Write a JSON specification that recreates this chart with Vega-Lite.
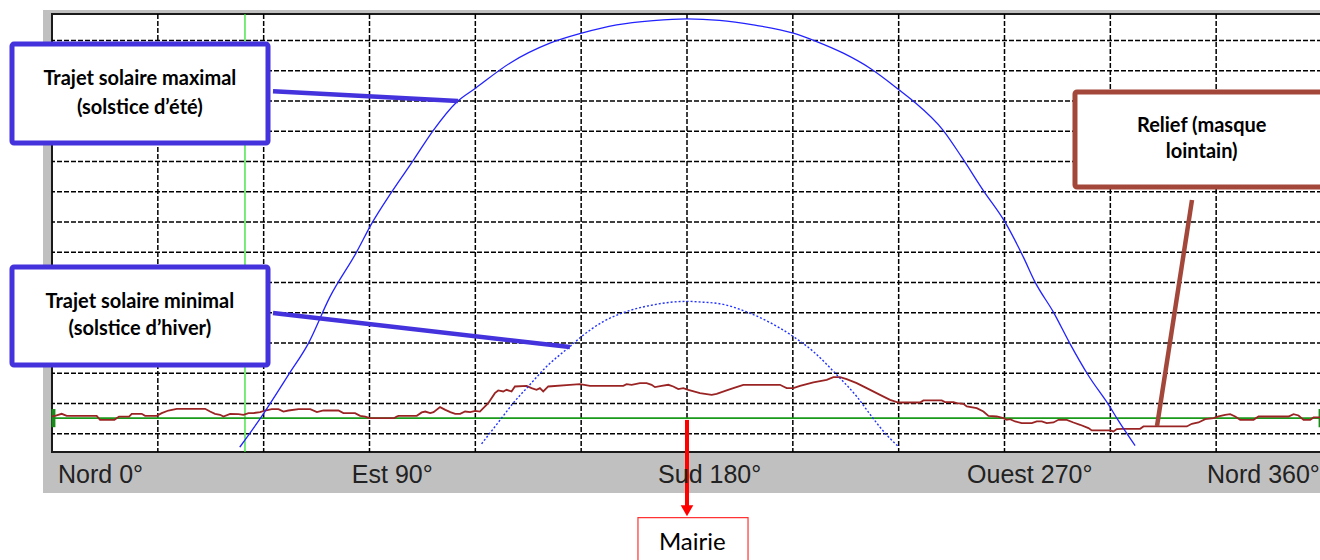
{
  "$schema": "https://vega.github.io/schema/vega-lite/v6.json",
  "width": 1270,
  "height": 438,
  "autosize": {"type": "none"},
  "padding": {"left": 52, "top": 14, "right": 0, "bottom": 108},
  "background": "white",
  "view": {"stroke": null},
  "datasets": {
    "band": [{"x1": -2.55, "x2": 366, "y1": 67.45, "y2": -12.38}],
    "plot": [{"x1": 0, "x2": 360, "y1": -5.6, "y2": 66.8}],
    "vgrid": [{"az": 30}, {"az": 60}, {"az": 90}, {"az": 120}, {"az": 150}, {"az": 180}, {"az": 210}, {"az": 240}, {"az": 270}, {"az": 300}, {"az": 330}],
    "hgrid": [{"e": -2.6}, {"e": 2.4}, {"e": 7.4}, {"e": 12.4}, {"e": 17.4}, {"e": 22.4}, {"e": 27.4}, {"e": 32.4}, {"e": 37.4}, {"e": 42.4}, {"e": 47.4}, {"e": 52.4}, {"e": 57.4}, {"e": 62.4}],
    "marker": [{"az": 54.7}],
    "horizon": [{"e": 0}],
    "endticks": [{"az": 0.4, "y1": -1.5, "y2": 1.5}, {"az": 359.6, "y1": -1.5, "y2": 1.5}],
    "relief": [
      {"az": 0, "e": 0.3}, {"az": 0.86, "e": 0.38}, {"az": 2.75, "e": 0.71}, {"az": 4.17, "e": 0.38}, {"az": 6.06, "e": 0.38}, {"az": 12.67, "e": 0.38}, {"az": 13.62, "e": -0.28}, {"az": 17.69, "e": -0.28}, {"az": 19.0, "e": 0.26}, {"az": 21.85, "e": 0.26}, {"az": 22.6, "e": 0.71}, {"az": 25.44, "e": 0.71}, {"az": 26.38, "e": 0.38}, {"az": 29.69, "e": 0.38}, {"az": 31.1, "e": 0.83}, {"az": 33.0, "e": 1.26}, {"az": 35.36, "e": 1.54}, {"az": 43.4, "e": 1.54}, {"az": 44.8, "e": 1.09}, {"az": 46.2, "e": 0.71}, {"az": 47.65, "e": 0.55}, {"az": 48.6, "e": 0.26}, {"az": 50.5, "e": 0.71}, {"az": 52.85, "e": 0.66}, {"az": 54.27, "e": 0.55}, {"az": 55.69, "e": 0.83}, {"az": 57.1, "e": 0.83}, {"az": 59.0, "e": 0.99}, {"az": 60.4, "e": 1.26}, {"az": 62.3, "e": 1.49}, {"az": 64.2, "e": 1.49}, {"az": 65.6, "e": 1.09}, {"az": 67.0, "e": 1.26}, {"az": 69.9, "e": 1.49}, {"az": 73.2, "e": 1.49}, {"az": 75.1, "e": 0.99}, {"az": 76.95, "e": 1.26}, {"az": 81.2, "e": 1.26}, {"az": 82.6, "e": 0.83}, {"az": 85.9, "e": 0.83}, {"az": 87.35, "e": 0.38}, {"az": 88.8, "e": 0.26}, {"az": 90, "e": 0.0}, {"az": 97.0, "e": 0.0}, {"az": 97.75, "e": 0.26}, {"az": 98.2, "e": 0.38}, {"az": 103.4, "e": 0.38}, {"az": 104.8, "e": 0.94}, {"az": 105.8, "e": 1.09}, {"az": 107.2, "e": 0.83}, {"az": 108.15, "e": 0.99}, {"az": 110.0, "e": 1.82}, {"az": 111.5, "e": 1.37}, {"az": 112.9, "e": 0.99}, {"az": 114.3, "e": 0.71}, {"az": 115.7, "e": 0.71}, {"az": 117.1, "e": 1.09}, {"az": 118.55, "e": 0.99}, {"az": 119.96, "e": 1.21}, {"az": 121.29, "e": 1.09}, {"az": 123.65, "e": 2.47}, {"az": 125.54, "e": 4.13}, {"az": 126.49, "e": 4.57}, {"az": 127.91, "e": 4.4}, {"az": 128.85, "e": 4.68}, {"az": 130.27, "e": 4.4}, {"az": 131.22, "e": 5.23}, {"az": 134.52, "e": 5.34}, {"az": 135.94, "e": 4.95}, {"az": 137.36, "e": 4.68}, {"az": 138.3, "e": 4.95}, {"az": 139.25, "e": 4.4}, {"az": 140.67, "e": 5.23}, {"az": 146.81, "e": 5.51}, {"az": 149.65, "e": 5.61}, {"az": 152.48, "e": 5.34}, {"az": 161.94, "e": 5.34}, {"az": 162.88, "e": 5.61}, {"az": 164.3, "e": 5.51}, {"az": 166.66, "e": 5.78}, {"az": 168.55, "e": 5.78}, {"az": 169.97, "e": 5.51}, {"az": 170.92, "e": 5.12}, {"az": 172.81, "e": 5.34}, {"az": 174.7, "e": 5.51}, {"az": 176.11, "e": 5.23}, {"az": 177.53, "e": 4.79}, {"az": 178.95, "e": 4.95}, {"az": 180.37, "e": 4.68}, {"az": 183.68, "e": 4.13}, {"az": 186.99, "e": 3.85}, {"az": 188.4, "e": 4.02}, {"az": 191.24, "e": 4.57}, {"az": 193.13, "e": 4.95}, {"az": 195.97, "e": 5.51}, {"az": 206.37, "e": 5.51}, {"az": 207.31, "e": 5.23}, {"az": 208.26, "e": 4.95}, {"az": 210.15, "e": 4.95}, {"az": 212.04, "e": 5.34}, {"az": 215.82, "e": 5.89}, {"az": 219.6, "e": 6.33}, {"az": 221.49, "e": 6.77}, {"az": 223.38, "e": 6.77}, {"az": 225.27, "e": 6.44}, {"az": 228.11, "e": 5.78}, {"az": 230.94, "e": 4.95}, {"az": 234.72, "e": 3.85}, {"az": 237.56, "e": 3.02}, {"az": 239.92, "e": 2.58}, {"az": 246.06, "e": 2.58}, {"az": 247.01, "e": 2.92}, {"az": 252.21, "e": 2.92}, {"az": 253.15, "e": 2.64}, {"az": 255.51, "e": 2.64}, {"az": 256.46, "e": 2.47}, {"az": 258.35, "e": 2.36}, {"az": 259.3, "e": 1.92}, {"az": 262.13, "e": 1.65}, {"az": 264.02, "e": 1.09}, {"az": 265.44, "e": 0.38}, {"az": 267.8, "e": 0.27}, {"az": 269.69, "e": 0.0}, {"az": 270.64, "e": -0.28}, {"az": 271.58, "e": -0.17}, {"az": 273.0, "e": -0.55}, {"az": 274.89, "e": -0.83}, {"az": 277.73, "e": -0.83}, {"az": 279.15, "e": -0.55}, {"az": 280.56, "e": -0.55}, {"az": 281.98, "e": -0.83}, {"az": 283.87, "e": -0.72}, {"az": 285.29, "e": -0.28}, {"az": 287.65, "e": -0.28}, {"az": 289.54, "e": -0.72}, {"az": 291.43, "e": -1.1}, {"az": 293.8, "e": -1.65}, {"az": 294.74, "e": -2.04}, {"az": 299.94, "e": -2.04}, {"az": 300.89, "e": -2.2}, {"az": 301.83, "e": -1.82}, {"az": 303.25, "e": -1.77}, {"az": 308.45, "e": -1.77}, {"az": 309.39, "e": -1.38}, {"az": 321.68, "e": -1.38}, {"az": 323.1, "e": -0.94}, {"az": 324.99, "e": -0.72}, {"az": 326.88, "e": -0.17}, {"az": 329.25, "e": 0.0}, {"az": 330.66, "e": 0.27}, {"az": 332.55, "e": 0.55}, {"az": 333.97, "e": 0.66}, {"az": 335.39, "e": 0.27}, {"az": 336.81, "e": -0.28}, {"az": 340.59, "e": -0.28}, {"az": 342.01, "e": 0.27}, {"az": 350.51, "e": 0.27}, {"az": 351.93, "e": 0.66}, {"az": 353.35, "e": 0.44}, {"az": 354.77, "e": -0.28}, {"az": 356.66, "e": -0.28}, {"az": 357.6, "e": 0.11}, {"az": 360, "e": 0.11}
    ],
    "summer": [
      {"az": 53.23, "e": -4.79}, {"az": 59.1, "e": 0}, {"az": 67.21, "e": 7.32}, {"az": 72.6, "e": 12.28}, {"az": 78.75, "e": 20.0}, {"az": 86.32, "e": 27.43}, {"az": 90.57, "e": 32.11}, {"az": 96.25, "e": 37.35}, {"az": 102.37, "e": 42.57}, {"az": 108.04, "e": 47.53}, {"az": 114.68, "e": 52.22}, {"az": 120.07, "e": 54.54}, {"az": 129.79, "e": 58.67}, {"az": 141.14, "e": 61.97}, {"az": 150.12, "e": 63.63}, {"az": 160.05, "e": 65.0}, {"az": 170.43, "e": 65.71}, {"az": 180, "e": 66.0}, {"az": 189.2, "e": 65.75}, {"az": 198.78, "e": 65.0}, {"az": 210.13, "e": 63.63}, {"az": 216.76, "e": 62.24}, {"az": 224.31, "e": 60.32}, {"az": 231.88, "e": 57.84}, {"az": 240.39, "e": 54.14}, {"az": 244.16, "e": 52.39}, {"az": 252.67, "e": 47.53}, {"az": 257.88, "e": 43.13}, {"az": 264.01, "e": 37.61}, {"az": 270.16, "e": 32.39}, {"az": 275.35, "e": 26.61}, {"az": 278.67, "e": 22.48}, {"az": 283.86, "e": 17.52}, {"az": 288.59, "e": 12.28}, {"az": 293.78, "e": 7.04}, {"az": 299.93, "e": 1.82}, {"az": 301.83, "e": 0}, {"az": 307.02, "e": -4.53}
    ],
    "winter": [
      {"az": 121.77, "e": -4.25}, {"az": 127.44, "e": 0}, {"az": 130.73, "e": 2.48}, {"az": 134.98, "e": 5.22}, {"az": 140.2, "e": 8.53}, {"az": 146.81, "e": 11.83}, {"az": 150.12, "e": 13.49}, {"az": 156.25, "e": 15.96}, {"az": 162.88, "e": 17.62}, {"az": 170.43, "e": 18.72}, {"az": 176.5, "e": 19.22}, {"az": 180, "e": 19.3}, {"az": 183.7, "e": 19.2}, {"az": 190.28, "e": 18.8}, {"az": 195.95, "e": 17.78}, {"az": 203.52, "e": 15.8}, {"az": 210.13, "e": 13.49}, {"az": 215.8, "e": 11.01}, {"az": 222.44, "e": 7.16}, {"az": 228.11, "e": 3.57}, {"az": 232.36, "e": 0.26}, {"az": 236.13, "e": -2.48}, {"az": 239.9, "e": -4.69}
    ],
    "arrow": [{"az": 180, "y1": -0.3, "y2": -14.6}],
    "arrowhead": [{"az": 180, "e": -15.3}],
    "bluelines": [{"x1": 62.65, "x2": 115.09, "y1": 54.05, "y2": 52.4}, {"x1": 62.65, "x2": 146.83, "y1": 17.37, "y2": 11.75}],
    "brownline": [{"x1": 323.15, "x2": 313.23, "y1": 36.05, "y2": -1.31}],
    "blueboxes": [{"x1": -11.34, "x2": 61.23, "y1": 61.83, "y2": 45.47}, {"x1": -11.34, "x2": 61.23, "y1": 24.98, "y2": 8.78}],
    "brownbox": [{"x1": 289.98, "x2": 366, "y1": 53.9, "y2": 38.2}],
    "mairiebox": [{"x1": 166.1, "x2": 197.3, "y1": -16.46, "y2": -27}],
    "boxtext": [
      {"az": 24.9, "e": 56.05, "label": "Trajet solaire maximal"},
      {"az": 24.9, "e": 51.3, "label": "(solstice d’été)"},
      {"az": 24.9, "e": 19.24, "label": "Trajet solaire minimal"},
      {"az": 24.9, "e": 14.73, "label": "(solstice d’hiver)"},
      {"az": 325.9, "e": 48.3, "label": "Relief (masque"},
      {"az": 325.9, "e": 44.03, "label": "lointain)"}
    ],
    "mairietext": [{"az": 181.5, "e": -20.6, "label": "Mairie"}],
    "axislabels": [
      {"az": 1.7, "e": -9.4, "label": "Nord 0°"},
      {"az": 85.0, "e": -9.4, "label": "Est 90°"},
      {"az": 171.8, "e": -9.4, "label": "Sud 180°"},
      {"az": 259.4, "e": -9.4, "label": "Ouest 270°"},
      {"az": 327.4, "e": -9.4, "label": "Nord 360°"}
    ]
  },
  "layer": [
    {
      "data": {"name": "band"},
      "mark": {"type": "rect", "fill": "#c0c0c0"},
      "encoding": {
        "x": {"field": "x1", "type": "quantitative", "scale": {"domain": [0, 360], "nice": false, "zero": false}, "axis": null},
        "x2": {"field": "x2"},
        "y": {"field": "y1", "type": "quantitative", "scale": {"domain": [-5.6, 66.8], "nice": false, "zero": false}, "axis": null},
        "y2": {"field": "y2"}
      }
    },
    {
      "data": {"name": "plot"},
      "mark": {"type": "rect", "fill": "white", "stroke": "#1a1a1a", "strokeWidth": 2},
      "encoding": {
        "x": {"field": "x1", "type": "quantitative", "axis": null},
        "x2": {"field": "x2"},
        "y": {"field": "y1", "type": "quantitative", "axis": null},
        "y2": {"field": "y2"}
      }
    },
    {
      "data": {"name": "vgrid"},
      "mark": {"type": "rule", "color": "#000", "strokeWidth": 1.5, "strokeDash": [5, 2]},
      "encoding": {"x": {"field": "az", "type": "quantitative", "axis": null}}
    },
    {
      "data": {"name": "hgrid"},
      "mark": {"type": "rule", "color": "#000", "strokeWidth": 1.5, "strokeDash": [5, 2]},
      "encoding": {"y": {"field": "e", "type": "quantitative", "axis": null}}
    },
    {
      "data": {"name": "marker"},
      "mark": {"type": "rule", "color": "#33e033", "strokeWidth": 1.3},
      "encoding": {"x": {"field": "az", "type": "quantitative", "axis": null}}
    },
    {
      "data": {"name": "horizon"},
      "mark": {"type": "rule", "color": "#1a9a1a", "strokeWidth": 1.6},
      "encoding": {"y": {"field": "e", "type": "quantitative", "axis": null}}
    },
    {
      "data": {"name": "endticks"},
      "mark": {"type": "rule", "color": "#1a8a1a", "strokeWidth": 4},
      "encoding": {
        "x": {"field": "az", "type": "quantitative", "axis": null},
        "y": {"field": "y1", "type": "quantitative", "axis": null},
        "y2": {"field": "y2"}
      }
    },
    {
      "data": {"name": "relief"},
      "mark": {"type": "line", "color": "#9a2424", "strokeWidth": 1.8},
      "encoding": {
        "x": {"field": "az", "type": "quantitative", "axis": null},
        "y": {"field": "e", "type": "quantitative", "axis": null}
      }
    },
    {
      "data": {"name": "summer"},
      "mark": {"type": "line", "color": "#2222ff", "strokeWidth": 1.3, "interpolate": "monotone"},
      "encoding": {
        "x": {"field": "az", "type": "quantitative", "axis": null},
        "y": {"field": "e", "type": "quantitative", "axis": null}
      }
    },
    {
      "data": {"name": "winter"},
      "mark": {"type": "line", "color": "#2233ff", "strokeWidth": 1.4, "strokeDash": [2, 2], "interpolate": "monotone"},
      "encoding": {
        "x": {"field": "az", "type": "quantitative", "axis": null},
        "y": {"field": "e", "type": "quantitative", "axis": null}
      }
    },
    {
      "data": {"name": "arrow"},
      "mark": {"type": "rule", "color": "#ff0000", "strokeWidth": 4},
      "encoding": {
        "x": {"field": "az", "type": "quantitative", "axis": null},
        "y": {"field": "y1", "type": "quantitative", "axis": null},
        "y2": {"field": "y2"}
      }
    },
    {
      "data": {"name": "arrowhead"},
      "mark": {"type": "point", "shape": "triangle-down", "filled": true, "color": "#ff0000", "size": 160, "opacity": 1},
      "encoding": {
        "x": {"field": "az", "type": "quantitative", "axis": null},
        "y": {"field": "e", "type": "quantitative", "axis": null}
      }
    },
    {
      "data": {"name": "bluelines"},
      "mark": {"type": "rule", "color": "#4433dd", "strokeWidth": 4.5},
      "encoding": {
        "x": {"field": "x1", "type": "quantitative", "axis": null},
        "x2": {"field": "x2"},
        "y": {"field": "y1", "type": "quantitative", "axis": null},
        "y2": {"field": "y2"}
      }
    },
    {
      "data": {"name": "brownline"},
      "mark": {"type": "rule", "color": "#a3473a", "strokeWidth": 4.5},
      "encoding": {
        "x": {"field": "x1", "type": "quantitative", "axis": null},
        "x2": {"field": "x2"},
        "y": {"field": "y1", "type": "quantitative", "axis": null},
        "y2": {"field": "y2"}
      }
    },
    {
      "data": {"name": "blueboxes"},
      "mark": {"type": "rect", "fill": "white", "stroke": "#4433dd", "strokeWidth": 5, "cornerRadius": 2},
      "encoding": {
        "x": {"field": "x1", "type": "quantitative", "axis": null},
        "x2": {"field": "x2"},
        "y": {"field": "y1", "type": "quantitative", "axis": null},
        "y2": {"field": "y2"}
      }
    },
    {
      "data": {"name": "brownbox"},
      "mark": {"type": "rect", "fill": "white", "stroke": "#a3473a", "strokeWidth": 5, "cornerRadius": 2},
      "encoding": {
        "x": {"field": "x1", "type": "quantitative", "axis": null},
        "x2": {"field": "x2"},
        "y": {"field": "y1", "type": "quantitative", "axis": null},
        "y2": {"field": "y2"}
      }
    },
    {
      "data": {"name": "mairiebox"},
      "mark": {"type": "rect", "fill": "white", "stroke": "#ff3333", "strokeWidth": 1.2},
      "encoding": {
        "x": {"field": "x1", "type": "quantitative", "axis": null},
        "x2": {"field": "x2"},
        "y": {"field": "y1", "type": "quantitative", "axis": null},
        "y2": {"field": "y2"}
      }
    },
    {
      "data": {"name": "boxtext"},
      "mark": {"type": "text", "font": "Lato", "fontWeight": "bold", "fontSize": 20, "color": "#000", "align": "center", "baseline": "middle"},
      "encoding": {
        "x": {"field": "az", "type": "quantitative", "axis": null},
        "y": {"field": "e", "type": "quantitative", "axis": null},
        "text": {"field": "label"}
      }
    },
    {
      "data": {"name": "mairietext"},
      "mark": {"type": "text", "font": "Lato", "fontSize": 24, "color": "#000", "align": "center", "baseline": "middle"},
      "encoding": {
        "x": {"field": "az", "type": "quantitative", "axis": null},
        "y": {"field": "e", "type": "quantitative", "axis": null},
        "text": {"field": "label"}
      }
    },
    {
      "data": {"name": "axislabels"},
      "mark": {"type": "text", "font": "Liberation Sans", "fontSize": 25, "color": "#222", "align": "left", "baseline": "middle"},
      "encoding": {
        "x": {"field": "az", "type": "quantitative", "axis": null},
        "y": {"field": "e", "type": "quantitative", "axis": null},
        "text": {"field": "label"}
      }
    }
  ]
}
